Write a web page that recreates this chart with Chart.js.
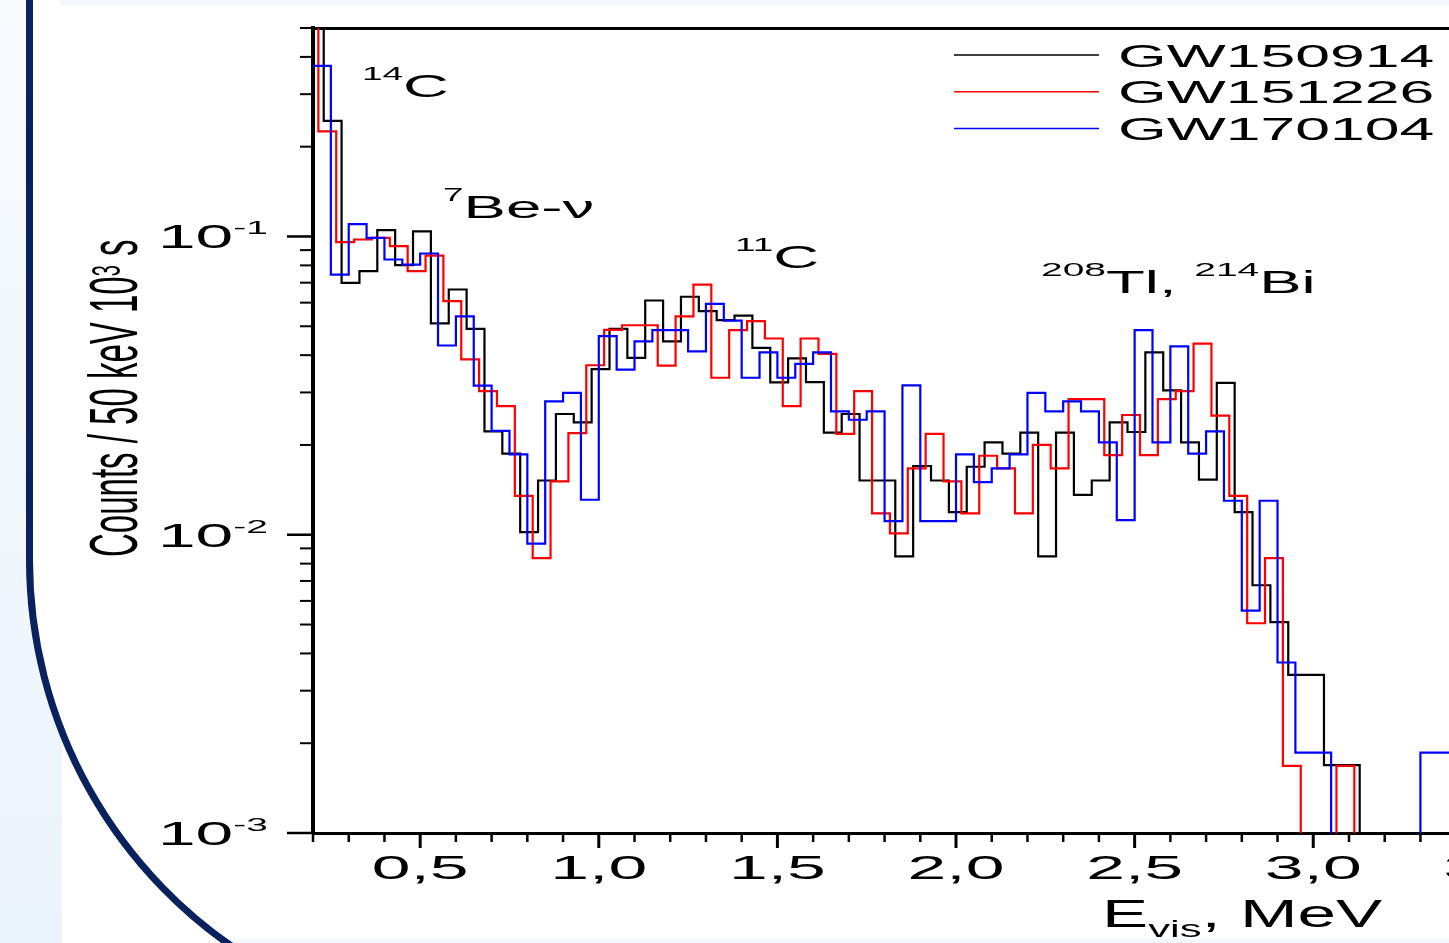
<!DOCTYPE html>
<html>
<head>
<meta charset="utf-8">
<script src="https://cdn.jsdelivr.net/npm/chart.js@4.4.1/dist/chart.umd.min.js"></script>
<style>
  html, body { margin: 0; padding: 0; background: #fff; overflow: hidden; }
  #wrap { position: relative; width: 1449px; height: 943px; }
</style>
</head>
<body>
<div id="wrap"><canvas id="spectrum" width="1449" height="943"></canvas></div>
<script>
// Borexino visible-energy spectra in 50 keV bins, one histogram per GW event.
// Each run starts at its own lower edge (the runs are drawn slightly offset in energy).
const binWidth = 0.05;

const gw150914Start = 0.18;
const gw150914 = [0.8, 0.244, 0.0699, 0.0765, 0.105, 0.0802, 0.104, 0.0511, 0.0664, 0.049,
  0.0222, 0.0187, 0.0102, 0.0152, 0.0254, 0.0238, 0.0359, 0.049, 0.0392, 0.061,
  0.0445, 0.0628, 0.0562, 0.0524, 0.0543, 0.0423, 0.0324, 0.039, 0.0325, 0.022,
  0.0254, 0.0152, 0.0152, 0.00846, 0.017, 0.0152, 0.0119, 0.0169, 0.0204, 0.0187,
  0.022, 0.00846, 0.022, 0.0136, 0.0152, 0.0238, 0.0221, 0.0409, 0.0305, 0.0204,
  0.0153, 0.0323, 0.0119, 0.00677, 0.00509, 0.00339, 0.00339, 0.00169, 0.00169, 0];

const gw151226Start = 0.165;
const gw151226 = [0.8, 0.225, 0.0957, 0.0977, 0.099, 0.0928, 0.0765, 0.0862, 0.0607, 0.0387,
  0.0303, 0.027, 0.0135, 0.00835, 0.0151, 0.0219, 0.037, 0.0486, 0.0504, 0.0504,
  0.0369, 0.054, 0.069, 0.0336, 0.0485, 0.052, 0.0455, 0.027, 0.0455, 0.0404,
  0.0218, 0.0303, 0.0118, 0.0101, 0.0167, 0.0218, 0.0151, 0.0118, 0.0184, 0.0167,
  0.0118, 0.02, 0.0167, 0.0285, 0.0285, 0.0185, 0.0252, 0.0185, 0.0285, 0.0303,
  0.0437, 0.0251, 0.0135, 0.00505, 0.00835, 0.00168, 0, 0, 0.00168, 0];

const gw170104Start = 0.20;
const gw170104 = [0.373, 0.0745, 0.11, 0.099, 0.0837, 0.0805, 0.0877, 0.0431, 0.054, 0.0316,
  0.0223, 0.0186, 0.00933, 0.028, 0.0299, 0.0131, 0.0463, 0.0358, 0.0445, 0.0485,
  0.0485, 0.0412, 0.0594, 0.0522, 0.0336, 0.0409, 0.0336, 0.0374, 0.0409, 0.0259,
  0.0243, 0.0259, 0.0111, 0.0317, 0.0111, 0.0111, 0.0186, 0.015, 0.0167, 0.0186,
  0.0299, 0.0259, 0.028, 0.0259, 0.0204, 0.0112, 0.0485, 0.0204, 0.0428, 0.0187,
  0.0222, 0.013, 0.00557, 0.013, 0.00373, 0.00186, 0.00186, 0, 0, 0,
  0, 0, 0.00186, 0.00186, 0.00186, 0];

const xTickLabels = ['0,5', '1,0', '1,5', '2,0', '2,5', '3,0', '3,5'];
const xTickValues = [0.5, 1.0, 1.5, 2.0, 2.5, 3.0, 3.5];
const yTickExps = [-1, -2, -3];

const SX = 2.05;            // lettering is drawn wide
const FONT = '"Liberation Sans", Arial, sans-serif';
const EMPTY_BIN = 1e-6;     // log axis can't show 0, push empty bins below the frame

function toSteps(start, values) {
  return values.map((v, i) => ({ x: +(start + i * binWidth).toFixed(3), y: v > 0 ? v : EMPTY_BIN }));
}

function putText(ctx, str, x, y, size, sx) {
  const s = sx || SX;
  ctx.save();
  ctx.translate(x, y);
  ctx.scale(s, 1);
  ctx.font = size + 'px ' + FONT;
  ctx.textBaseline = 'alphabetic';
  ctx.textAlign = 'left';
  ctx.fillText(str, 0, 0);
  const w = ctx.measureText(str).width * s;
  ctx.restore();
  return w;
}

function putRich(ctx, parts, x, y, align, sx) {
  const s = sx || SX;
  let w = 0;
  parts.forEach(p => { ctx.font = p.size + 'px ' + FONT; w += ctx.measureText(p.t).width * s; });
  let cx = align === 'center' ? x - w / 2 : align === 'right' ? x - w : x;
  parts.forEach(p => { cx += putText(ctx, p.t, cx, y - (p.rise || 0), p.size, s); });
}

// slide frame behind the plot
const backdrop = {
  id: 'backdrop',
  beforeDraw(chart) {
    const ctx = chart.ctx;
    const W = chart.width, H = chart.height;
    ctx.save();
    ctx.fillStyle = '#fff';
    ctx.fillRect(0, 0, W, H);
    const g = ctx.createLinearGradient(0, 0, 0, H);
    g.addColorStop(0, '#f8fbfe');
    g.addColorStop(1, '#ebf3fc');
    ctx.fillStyle = g;
    ctx.fillRect(0, 0, 62, H);

    const cx = 499.5, cy = 560, r = 470;
    ctx.beginPath();
    ctx.moveTo(29.5, 0);
    ctx.lineTo(29.5, cy);
    ctx.arc(cx, cy, r, Math.PI, 2.12, true);
    ctx.lineTo(W, H);
    ctx.lineTo(W, 0);
    ctx.closePath();
    ctx.fillStyle = '#fff';
    ctx.fill();

    ctx.fillStyle = '#f2f7fc';
    ctx.fillRect(60, 0, W - 60, 5);
    ctx.fillRect(228, H - 4, W - 228, 4);

    ctx.beginPath();
    ctx.moveTo(29.5, 0);
    ctx.lineTo(29.5, cy);
    ctx.arc(cx, cy, r, Math.PI, 2.12, true);
    ctx.strokeStyle = '#0b215e';
    ctx.lineWidth = 7;
    ctx.stroke();
    ctx.restore();
  }
};

// tick marks, tick labels, titles, peak names and legend
const lettering = {
  id: 'lettering',
  afterDraw(chart) {
    const ctx = chart.ctx;
    const xs = chart.scales.x, ys = chart.scales.y;
    const area = chart.chartArea;
    ctx.save();
    ctx.strokeStyle = '#000';
    ctx.fillStyle = '#000';

    // x ticks every 0.1 MeV, long ones every 0.5
    for (let i = 2; i <= 40; i++) {
      const v = i / 10;
      if (v > xs.max) break;
      const px = xs.getPixelForValue(v);
      const major = i % 5 === 0;
      ctx.lineWidth = major ? 3 : 2.5;
      ctx.beginPath();
      ctx.moveTo(px, area.bottom);
      ctx.lineTo(px, area.bottom + (major ? 15 : 9));
      ctx.stroke();
    }
    // y ticks on each decade, short ones in between
    yTickExps.forEach(e => {
      for (let s = 1; s <= 9; s++) {
        const v = s * Math.pow(10, e);
        if (v > ys.max * 1.0001) break;
        const py = ys.getPixelForValue(v);
        ctx.lineWidth = s === 1 ? 2.5 : 2;
        ctx.beginPath();
        ctx.moveTo(area.left - (s === 1 ? 26 : 13), py);
        ctx.lineTo(area.left, py);
        ctx.stroke();
      }
    });

    xTickValues.forEach((v, i) => {
      putRich(ctx, [{ t: xTickLabels[i], size: 34 }], xs.getPixelForValue(v), area.bottom + 46, 'center');
    });
    yTickExps.forEach(e => {
      const py = ys.getPixelForValue(Math.pow(10, e));
      putRich(ctx, [{ t: '10', size: 33 }, { t: '-' + (-e), size: 19, rise: 14 }], 158, py + 12, 'left');
    });

    // axis titles
    putRich(ctx, [{ t: 'E', size: 38 }, { t: 'vis', size: 24, rise: -10 }, { t: ', MeV', size: 38 }], 1102, 927, 'left', 1.82);

    ctx.save();
    ctx.translate(137, 557);
    ctx.rotate(-Math.PI / 2);
    ctx.scale(1, SX);
    ctx.font = '33px ' + FONT;
    ctx.fillText('Counts / 50 keV 10', 0, 0);
    let w = ctx.measureText('Counts / 50 keV 10').width;
    ctx.font = '20px ' + FONT;
    ctx.fillText('3', w, -8.5);
    w += ctx.measureText('3').width;
    ctx.font = '33px ' + FONT;
    ctx.fillText(' s', w, 0);
    ctx.restore();

    // peak names
    putRich(ctx, [{ t: '14', size: 18, rise: 17 }, { t: 'C', size: 31 }], 362, 96.5, 'left');
    putRich(ctx, [{ t: '7', size: 18, rise: 17 }, { t: 'Be-\u03bd', size: 31 }], 443, 218, 'left');
    putRich(ctx, [{ t: '11', size: 18, rise: 17 }, { t: 'C', size: 31 }], 735, 268, 'left');
    putRich(ctx, [{ t: '208', size: 19, rise: 17 }, { t: 'Tl, ', size: 31 }, { t: '214', size: 19, rise: 17 }, { t: 'Bi', size: 31 }], 1041, 293, 'left');

    // legend
    chart.data.datasets.slice().reverse().forEach((ds, i) => {
      const ly = 55 + i * 36.7;
      ctx.strokeStyle = ds.borderColor;
      ctx.lineWidth = 1.5;
      ctx.beginPath();
      ctx.moveTo(954, ly);
      ctx.lineTo(1099, ly);
      ctx.stroke();
      putText(ctx, ds.label, 1118, ly + 11.7, 30.5);
    });
    ctx.restore();
  }
};

const ctx = document.getElementById('spectrum').getContext('2d');

new Chart(ctx, {
  type: 'line',
  data: {
    datasets: [{
      label: 'GW170104',
      data: toSteps(gw170104Start, gw170104),
      borderColor: '#0000ff',
      borderWidth: 2.2
    }, {
      label: 'GW151226',
      data: toSteps(gw151226Start, gw151226),
      borderColor: '#ff0000',
      borderWidth: 2.2
    }, {
      label: 'GW150914',
      data: toSteps(gw150914Start, gw150914),
      borderColor: '#000000',
      borderWidth: 2.2
    }]
  },
  options: {
    responsive: false,
    devicePixelRatio: 1,
    animation: false,
    events: [],
    elements: {
      line: { stepped: 'before', fill: false, tension: 0 },
      point: { radius: 0, hoverRadius: 0 }
    },
    layout: { padding: { top: 28, left: 0, right: 0, bottom: 0 } },
    plugins: { legend: { display: false }, tooltip: { enabled: false } },
    scales: {
      x: {
        type: 'linear',
        position: 'bottom',
        min: 0.2,
        max: 3.38,
        z: 1,
        grid: { display: true, drawOnChartArea: false, drawTicks: false },
        border: { display: true, color: '#000', width: 3 },
        ticks: { display: false },
        afterFit(scale) { scale.height = 110; }
      },
      xTop: {
        type: 'linear',
        position: 'top',
        min: 0.2,
        max: 3.38,
        z: 1,
        grid: { display: true, drawOnChartArea: false, drawTicks: false },
        border: { display: true, color: '#000', width: 3 },
        ticks: { display: false },
        afterFit(scale) { scale.height = 0; }
      },
      y: {
        type: 'logarithmic',
        position: 'left',
        min: 0.001,
        max: 0.5,
        z: 1,
        grid: { display: true, drawOnChartArea: false, drawTicks: false },
        border: { display: true, color: '#000', width: 4 },
        ticks: { display: false },
        afterFit(scale) { scale.width = 313; }
      }
    }
  },
  plugins: [backdrop, lettering]
});
</script>
</body>
</html>
